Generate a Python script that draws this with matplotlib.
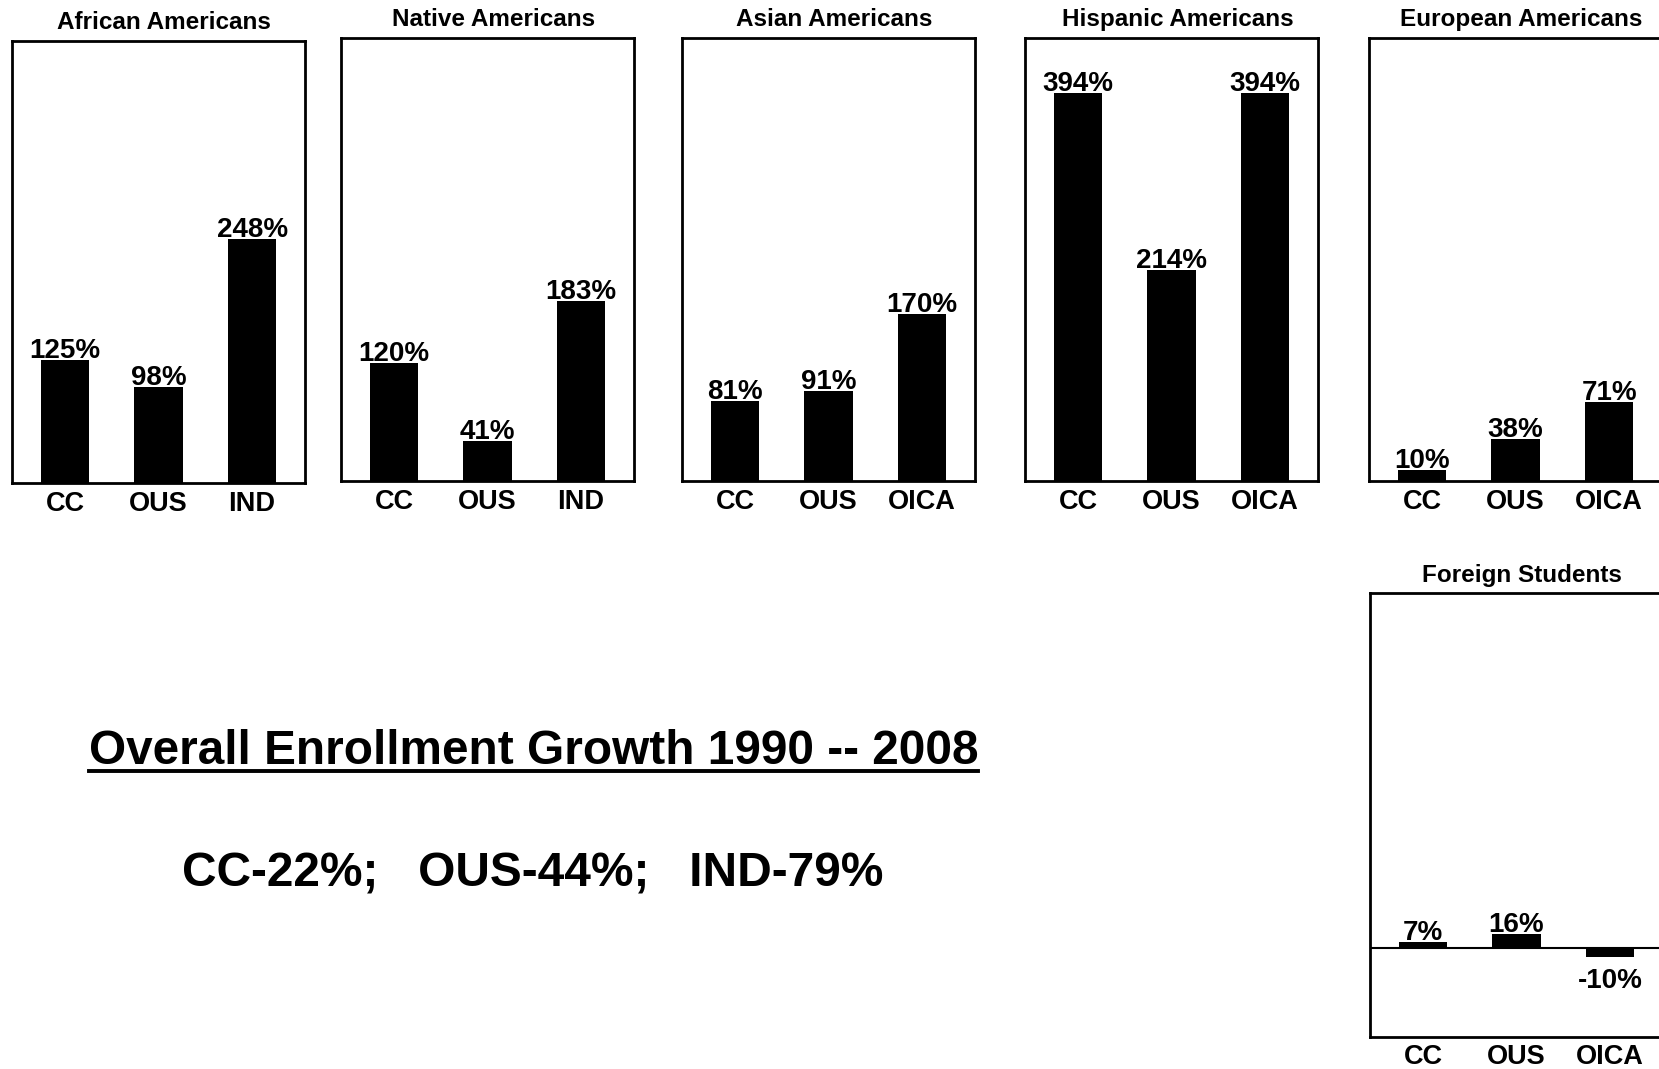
import matplotlib
matplotlib.use("Agg")
import matplotlib.pyplot as plt
from matplotlib.lines import Line2D

plt.rcParams["font.family"] = ["Liberation Sans", "DejaVu Sans"]
plt.rcParams["font.weight"] = "bold"

# Enrollment growth by group (percent), 1990-2008
african_labels = ["CC", "OUS", "IND"]
african_values = [125, 98, 248]

native_labels = ["CC", "OUS", "IND"]
native_values = [120, 41, 183]

asian_labels = ["CC", "OUS", "OICA"]
asian_values = [81, 91, 170]

hispanic_labels = ["CC", "OUS", "OICA"]
hispanic_values = [394, 214, 394]

european_labels = ["CC", "OUS", "OICA"]
european_values = [10, 38, 71]

foreign_labels = ["CC", "OUS", "OICA"]
foreign_values = [7, 16, -10]

W, H = 1659, 1069
fig = plt.figure(figsize=(W / 100, H / 100), dpi=100)


def px_axes(left, top, width, bottom):
    # place axes using pixel box (top-left origin)
    return fig.add_axes([left / W, (H - bottom) / H, width / W, (bottom - top) / H])


def bar_panel(ax, title, labels, values, ylim, tick_pad=6, title_pad=8.5):
    x = list(range(len(values)))
    bars = ax.bar(x, values, width=0.52, color="black", zorder=2)
    ax.set_xlim(-0.565, 2.565)
    ax.set_ylim(*ylim)
    ax.set_yticks([])
    ax.set_xticks(x)
    ax.set_xticklabels(labels, fontsize=19.5, fontweight="bold")
    ax.tick_params(axis="x", length=0, pad=tick_pad)
    for s in ax.spines.values():
        s.set_linewidth(2)
        s.set_color("black")
    ax.set_title(title, fontsize=17.5, fontweight="bold", pad=title_pad, x=0.52)
    for b, v in zip(bars, values):
        cx = b.get_x() + b.get_width() / 2
        if v >= 0:
            ax.annotate(f"{v}%", (cx, v), xytext=(0, 1.5), textcoords="offset points",
                        ha="center", va="baseline", fontsize=20, fontweight="bold")
        else:
            ax.annotate(f"{v}%", (cx, v), xytext=(0, -8), textcoords="offset points",
                        ha="center", va="top", fontsize=20, fontweight="bold")
    return ax


ax1 = px_axes(12, 41, 293, 483)
bar_panel(ax1, "African Americans", african_labels, african_values, (0, 450))

ax2 = px_axes(341, 38, 293, 481)
bar_panel(ax2, "Native Americans", native_labels, native_values, (0, 450))

ax3 = px_axes(682, 38, 293, 481)
bar_panel(ax3, "Asian Americans", asian_labels, asian_values, (0, 450))

ax4 = px_axes(1025, 38, 293, 481)
bar_panel(ax4, "Hispanic Americans", hispanic_labels, hispanic_values, (0, 450))

ax5 = px_axes(1369, 38, 293, 481)
bar_panel(ax5, "European Americans", european_labels, european_values, (0, 400))

ax6 = px_axes(1370, 593, 293, 1037)
bar_panel(ax6, "Foreign Students", foreign_labels, foreign_values, (-100, 400),
          tick_pad=5, title_pad=8)
ax6.axhline(0, color="black", linewidth=1.5, zorder=3)

# summary text
heading = fig.text(533.5 / W, (H - 764) / H, "Overall Enrollment Growth 1990 -- 2008",
                   ha="center", va="baseline", fontsize=34.4, fontweight="bold")
fig.text(533 / W, (H - 887) / H, "CC-22%;   OUS-44%;   IND-79%",
         ha="center", va="baseline", fontsize=34.5, fontweight="bold")

# underline the heading
fig.canvas.draw()
bb = heading.get_window_extent()
uy = (H - 771) / H
fig.add_artist(Line2D([bb.x0 / W, bb.x1 / W], [uy, uy], color="black",
                      linewidth=2.8, transform=fig.transFigure))

fig.savefig("out.png", dpi=100)
